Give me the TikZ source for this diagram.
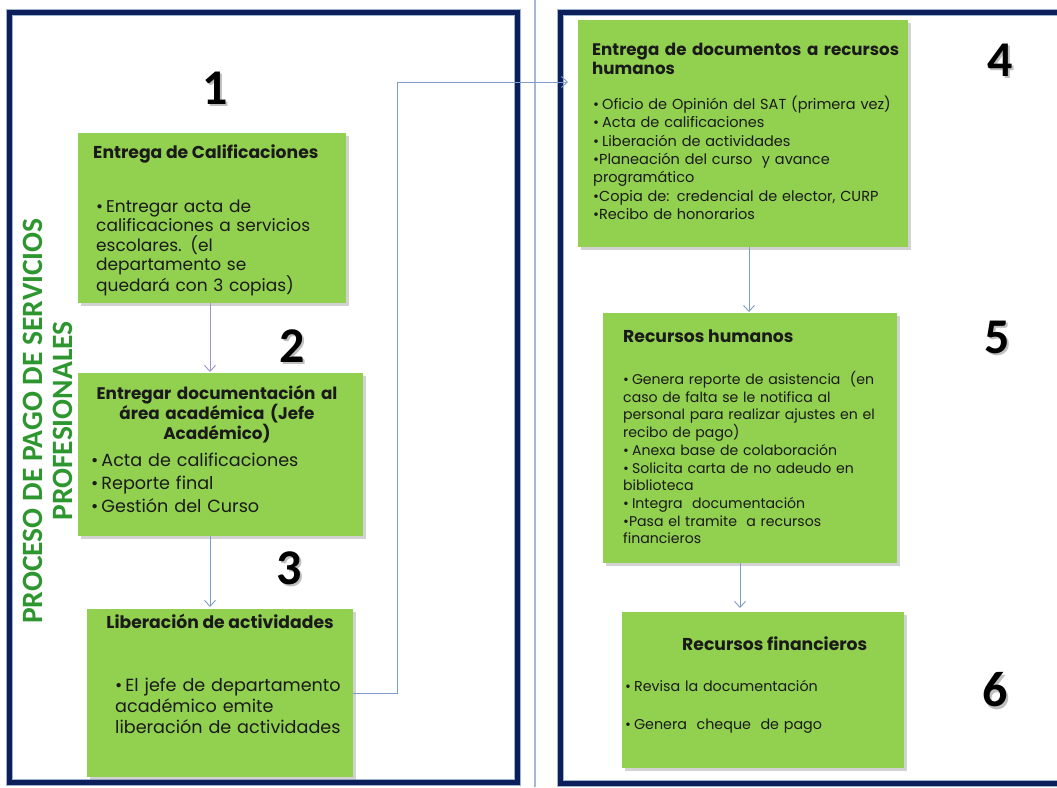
\documentclass[tikz,border=0pt]{standalone}
\usepackage{fontspec}
\setmainfont{Poppins}
\newfontfamily\calib{Carlito}
\usetikzlibrary{arrows.meta,shadows}
\definecolor{navy}{HTML}{0C1F5B}
\definecolor{navyglow}{HTML}{9DB4D0}
\definecolor{boxgreen}{HTML}{92D050}
\definecolor{linkblue}{HTML}{7F9CC8}
\definecolor{linklav}{HTML}{A193CB}
\definecolor{midline}{HTML}{A5B8CF}
\definecolor{titlegreen}{HTML}{2D962F}
\definecolor{txt}{HTML}{1A1A1A}
\hyphenpenalty=10000
\exhyphenpenalty=10000
\newcommand{\bul}{•\kern3pt}
\begin{document}
\begin{tikzpicture}[x=1pt,y=-1pt,
  gbox/.style={draw=none, fill=boxgreen, inner sep=0pt, anchor=north west,
    drop shadow={shadow xshift=2.5pt, shadow yshift=-2.5pt, opacity=0.35}},
  ttl/.style={inner sep=0pt, text=txt, font=\bfseries\fontsize{17.2}{19.5}\selectfont},
  bodyL/.style={inner sep=0pt, text=txt, anchor=base west, align=left, text width=420pt},
  num/.style={inner sep=0pt, font=\calib\bfseries\fontsize{50}{50}\selectfont},
  numshadow/.style={num, text=black, opacity=0.25},
  arr/.style={draw=linkblue, line width=0.9pt, -{Straight Barb[length=6pt,width=11pt]}},
  frame/.style={draw=navy, line width=5pt},
  frameglow/.style={draw=navyglow, line width=7pt}
]
\useasboundingbox (0,0) rectangle (1057,787);
\fill[white] (0,0) rectangle (1057,787);

% middle separator line
\draw[midline, line width=1.3pt] (535,0) -- (535,787);

% frames
\draw[frameglow] (9.5,12.5) rectangle (517.5,782);
\draw[frame] (9.5,12.5) rectangle (517.5,782);
\draw[frameglow] (1070,12.5) -- (560,12.5) -- (560,783) -- (1070,783);
\draw[frame] (1070,12.5) -- (560,12.5) -- (560,783) -- (1070,783);

% vertical title
\node[rotate=90, align=center, text=titlegreen, inner sep=0pt,
  font=\calib\bfseries\fontsize{29.5}{30.5}\selectfont] (vt) at (48,421)
  {PROCESO DE PAGO DE SERVICIOS\\PROFESIONALES};

% boxes
\node[gbox, minimum width=268pt, minimum height=170pt] (b1) at (78,133) {};
\node[gbox, minimum width=285pt, minimum height=163pt] (b2) at (78,373) {};
\node[gbox, minimum width=266pt, minimum height=168pt] (b3) at (87,609) {};
\node[gbox, minimum width=330pt, minimum height=227pt] (b4) at (578,20) {};
\node[gbox, minimum width=294pt, minimum height=250pt] (b5) at (603,313) {};
\node[gbox, minimum width=282pt, minimum height=156pt] (b6) at (622,612) {};

% box 1 text
\node[ttl, anchor=base west] (t1) at (93,158) {Entrega de Calificaciones};
\node[bodyL, font=\fontsize{17}{19.5}\selectfont] (d1) at (96,212)
  {\bul Entregar acta de\\calificaciones a servicios\\escolares. (el\\departamento se\\quedará con 3 copias)};

% box 2 text
\node[ttl, anchor=base, text width=320pt, align=center, font=\bfseries\fontsize{16.8}{19.5}\selectfont] (t2) at (217,399)
  {Entregar documentación al\\área académica (Jefe\\Académico)};
\node[bodyL, font=\fontsize{17.6}{23}\selectfont] (d2) at (91,466)
  {\bul Acta de calificaciones\\\bul Reporte final\\\bul Gestión del Curso};

% box 3 text
\node[ttl, anchor=base] (t3) at (220,628) {Liberación de actividades};
\node[bodyL, font=\fontsize{17.6}{21}\selectfont] (d3) at (115,691)
  {\bul El jefe de departamento\\académico emite\\liberación de actividades};

% box 4 text
\node[ttl, anchor=base west, text width=420pt, align=left, font=\bfseries\fontsize{16.7}{19.5}\selectfont] (t4) at (592,55)
  {Entrega de documentos a recursos\\humanos};
\node[bodyL, font=\fontsize{14.5}{18.3}\selectfont] (d4) at (593,109.5)
  {\bul Oficio de Opinión del SAT (primera vez)\\\bul Acta de calificaciones\\\bul Liberación de actividades\\•Planeación del curso \ y avance\\programático\\•Copia de: credencial de elector, CURP\\•Recibo de honorarios};

% box 5 text
\node[ttl, anchor=base west] (t5) at (623,342) {Recursos humanos};
\node[bodyL, font=\fontsize{14.1}{17.7}\selectfont] (d5) at (623,384.5)
  {\bul Genera reporte de asistencia \ (en\\caso de falta se le notifica al\\personal para realizar ajustes en el\\recibo de pago)\\\bul Anexa base de colaboración\\\bul Solicita carta de no adeudo en\\biblioteca\\\bul Integra \ documentación\\•Pasa el tramite \ a recursos\\financieros};

% box 6 text
\node[ttl, anchor=base west] (t6) at (682,650) {Recursos financieros};
\node[bodyL, font=\fontsize{14.3}{38}\selectfont] (d6) at (625,691)
  {\bul Revisa la documentación\\\bul Genera \ cheque \ de pago};

% step numbers
\foreach \n/\px/\py in {1/215/88, 2/292/346, 3/289/568, 4/1000/60, 5/997/337, 6/995/690}{
  \node[numshadow] (n\n s) at (\px+2,\py+2.5) {\n};
  \node[num] (n\n) at (\px,\py) {\n};
}

% connectors
\coordinate (k3) at (397,82);
\coordinate (k4) at (568,82);
\draw[arr, draw=linklav] (210,0 |- b1.south) -- ([yshift=1pt]210,0 |- b2.north);
\draw[arr] (210,0 |- b2.south) -- ([yshift=2pt]210,0 |- b3.north);
\draw[arr] (b3.east) -| (k3) -- (k4);
\draw[arr] (749,0 |- b4.south) -- ([yshift=1pt]749,0 |- b5.north);
\draw[arr] (740,0 |- b5.south) -- ([yshift=4pt]740,0 |- b6.north);
\end{tikzpicture}
\end{document}
